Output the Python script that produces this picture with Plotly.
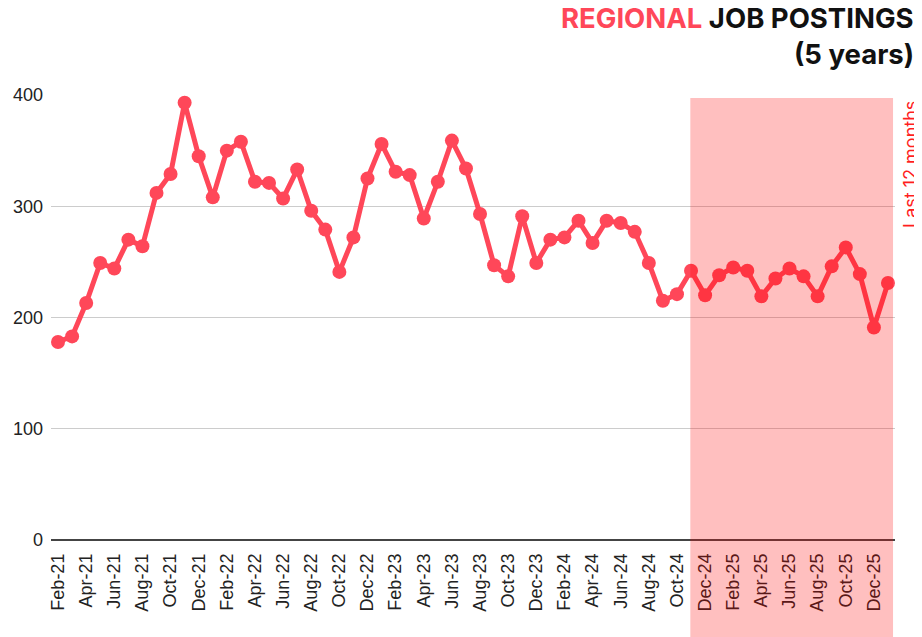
import plotly.graph_objects as go

months = ["Feb-21","Mar-21","Apr-21","May-21","Jun-21","Jul-21","Aug-21","Sep-21","Oct-21","Nov-21","Dec-21",
          "Jan-22","Feb-22","Mar-22","Apr-22","May-22","Jun-22","Jul-22","Aug-22","Sep-22","Oct-22","Nov-22","Dec-22",
          "Jan-23","Feb-23","Mar-23","Apr-23","May-23","Jun-23","Jul-23","Aug-23","Sep-23","Oct-23","Nov-23","Dec-23",
          "Jan-24","Feb-24","Mar-24","Apr-24","May-24","Jun-24","Jul-24","Aug-24","Sep-24","Oct-24","Nov-24","Dec-24",
          "Jan-25","Feb-25","Mar-25","Apr-25","May-25","Jun-25","Jul-25","Aug-25","Sep-25","Oct-25","Nov-25","Dec-25",
          "Jan-26"]
postings = [178, 183, 213, 249, 244, 270, 264, 312, 329, 393, 345,
            308, 350, 358, 322, 321, 307, 333, 296, 279, 241, 272, 325,
            356, 331, 328, 289, 322, 359, 334, 293, 247, 237, 291, 249,
            270, 272, 287, 267, 287, 285, 277, 249, 215, 221, 242, 220,
            238, 245, 242, 219, 235, 244, 237, 219, 246, 263, 239, 191,
            231]
tick_labels = months[::2]
y_ticks = [0, 100, 200, 300, 400]
shade_start = "Nov-24"
shade_label = "Last 12 months"
title_line1_red = "REGIONAL"
title_line1_rest = " JOB POSTINGS"
title_line2 = "(5 years)"

RED = "#FF4759"
x_idx = list(range(len(months)))

# page body has an 8px margin, so the figure is drawn 8px in from the window edge
W, H = 914, 629
L, R, T, B = 43, 27, 87, 97
PH = H - T - B
PW = W - L - R

def py(y_fig):
    return (H - B - y_fig) / PH

def px(x_fig):
    return (x_fig - L) / PW

fig = go.Figure()
fig.add_trace(go.Scatter(
    x=x_idx, y=postings, mode="lines+markers",
    line=dict(color=RED, width=5),
    marker=dict(color=RED, size=14),
    hoverinfo="x+y", showlegend=False,
))

start_i = months.index(shade_start)
fig.add_shape(type="rect", xref="x", yref="paper",
              x0=start_i - 0.05, x1=len(months) - 1 + 0.36, y0=-0.3, y1=py(90),
              fillcolor="rgba(255,0,0,0.25)", line=dict(width=0), layer="above")

fig.add_annotation(text=shade_label, xref="paper", yref="paper",
                   x=px(902.5), y=py(156.5), xanchor="center", yanchor="middle",
                   textangle=-90, showarrow=False,
                   font=dict(family="Inter", size=18, color="#FF1F1F", weight=400))

fig.add_annotation(text="<span style='color:%s'>%s</span>%s" % (RED, title_line1_red, title_line1_rest),
                   xref="paper", yref="paper", x=px(908), y=py(10),
                   xanchor="right", yanchor="middle", showarrow=False,
                   font=dict(family="Inter", size=27.5, color="#111111", weight=700))
fig.add_annotation(text=title_line2,
                   xref="paper", yref="paper", x=px(908), y=py(46),
                   xanchor="right", yanchor="middle", showarrow=False,
                   font=dict(family="Inter", size=27.5, color="#111111", weight=700))

fig.update_layout(
    width=W, height=H,
    margin=dict(l=L, r=R, t=T, b=B),
    paper_bgcolor="white", plot_bgcolor="white",
    xaxis=dict(
        range=[-0.5, len(months) - 0.5], automargin=False,
        tickmode="array", tickvals=x_idx[::2], ticktext=tick_labels,
        tickangle=-90, showgrid=False, zeroline=False,
        showline=False, ticks="", ticklabelstandoff=9,
        tickfont=dict(family="Liberation Sans, Arial", size=18, color="#222222"),
    ),
    yaxis=dict(
        range=[0, 400], tickvals=y_ticks, automargin=False,
        showgrid=True, gridcolor="#CCCCCC", gridwidth=1,
        zeroline=True, zerolinecolor="#444444", zerolinewidth=1.5,
        showline=False, ticks="", ticklabelstandoff=7,
        tickfont=dict(family="Liberation Sans, Arial", size=18, color="#222222"),
    ),
)

fig.write_html("out.html")
